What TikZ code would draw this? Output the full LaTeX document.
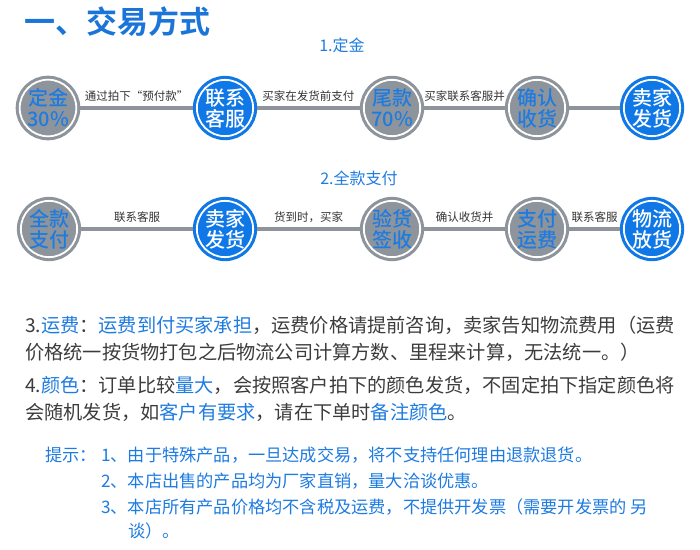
\documentclass[tikz,border=0pt]{standalone}
\usepackage{fontspec}
\setmainfont{Noto Sans CJK SC}[BoldFont={Noto Sans CJK SC Bold}]
\newfontfamily\medfont{Noto Sans CJK SC Medium}
\definecolor{cblue}{HTML}{1E7BE0}
\definecolor{ctitle}{HTML}{1B74D8}
\definecolor{ccirc}{HTML}{0F78E6}
\definecolor{cgrey}{HTML}{8E949B}
\definecolor{ctext}{HTML}{3C3C3C}
\definecolor{clbl}{HTML}{333333}
\newcommand{\hl}[1]{\textcolor{cblue}{#1}}
\tikzset{
  circ/.style={circle, minimum size=50pt, inner sep=0pt, outer sep=4pt,
    fill=#1, draw=white, line width=1.8pt, preaction={draw=#1, line width=8pt},
    align=center, font=\medfont\fontsize{20}{21}\selectfont},
  gcirc/.style={circ=cgrey, text=cblue},
  bcirc/.style={circ=ccirc, text=white},
  conn/.style={draw=cgrey, line width=3.5pt},
  lbl/.style={midway, above=5pt, inner sep=0pt, text=clbl, font=\fontsize{11.5}{12}\selectfont},
  para/.style={anchor=west, inner sep=0pt, text=ctext, font=\fontsize{19.2}{20}\selectfont},
  hint/.style={anchor=west, inner sep=0pt, text=cblue, font=\fontsize{17.2}{18}\selectfont},
  sub/.style={inner sep=0pt, text=cblue, font=\fontsize{16}{17}\selectfont},
}
\begin{document}
\begin{tikzpicture}[x=1pt,y=-1pt]
\useasboundingbox (0,0) rectangle (700,549);
\node[anchor=west, inner sep=0pt, text=ctitle, font=\fontsize{31}{32}\selectfont\bfseries] (title) at (24,22) {一、交易方式};
\node[sub] (s1) at (342,45) {1.定金};
\node[gcirc] (a1) at (48,108) {定金\\30\%};
\node[bcirc] (a2) at (225,108) {联系\\客服};
\node[gcirc] (a3) at (392,108) {尾款\\70\%};
\node[gcirc] (a4) at (537,108) {确认\\收货};
\node[bcirc] (a5) at (652,108) {卖家\\发货};
\draw[conn] (a1) -- node[lbl] {通过拍下“预付款”} (a2);
\draw[conn] (a2) -- node[lbl] {买家在发货前支付} (a3);
\draw[conn] (a3) -- node[lbl] {买家联系客服并} (a4);
\draw[conn] (a4) -- (a5);
\node[sub] (s2) at (359,178) {2.全款支付};
\node[gcirc] (b1) at (49,229) {全款\\支付};
\node[bcirc] (b2) at (225,229) {卖家\\发货};
\node[gcirc] (b3) at (392,229) {验货\\签收};
\node[gcirc] (b4) at (537,229) {支付\\运费};
\node[bcirc] (b5) at (652,229) {物流\\放货};
\draw[conn] (b1) -- node[lbl] {联系客服} (b2);
\draw[conn] (b2) -- node[lbl] {货到时，买家} (b3);
\draw[conn] (b3) -- node[lbl] {确认收货并} (b4);
\draw[conn] (b4) -- node[lbl] {联系客服} (b5);
\node[para] (p1) at (25,325) {3.\hl{运费}：\hl{运费到付买家承担}，运费价格请提前咨询，卖家告知物流费用（运费};
\node[para] (p2) at (25,352) {价格统一按货物打包之后物流公司计算方数、里程来计算，无法统一。）};
\node[para] (p3) at (25,385) {4.\hl{颜色}：订单比较\hl{量大}，会按照客户拍下的颜色发货，不固定拍下指定颜色将};
\node[para] (p4) at (25,412) {会随机发货，如\hl{客户有要求}，请在下单时\hl{备注颜色}。};
\node[hint] (h0) at (45,455) {提示：};
\node[hint] (h1) at (101,455) {1、由于特殊产品，一旦达成交易，将不支持任何理由退款退货。};
\node[hint] (h2) at (101,481) {2、本店出售的产品均为厂家直销，量大洽谈优惠。};
\node[hint] (h3) at (101,507) {3、本店所有产品价格均不含税及运费，不提供开发票（需要开发票的 另};
\node[hint] (h4) at (128,531) {谈）。};
\end{tikzpicture}
\end{document}
